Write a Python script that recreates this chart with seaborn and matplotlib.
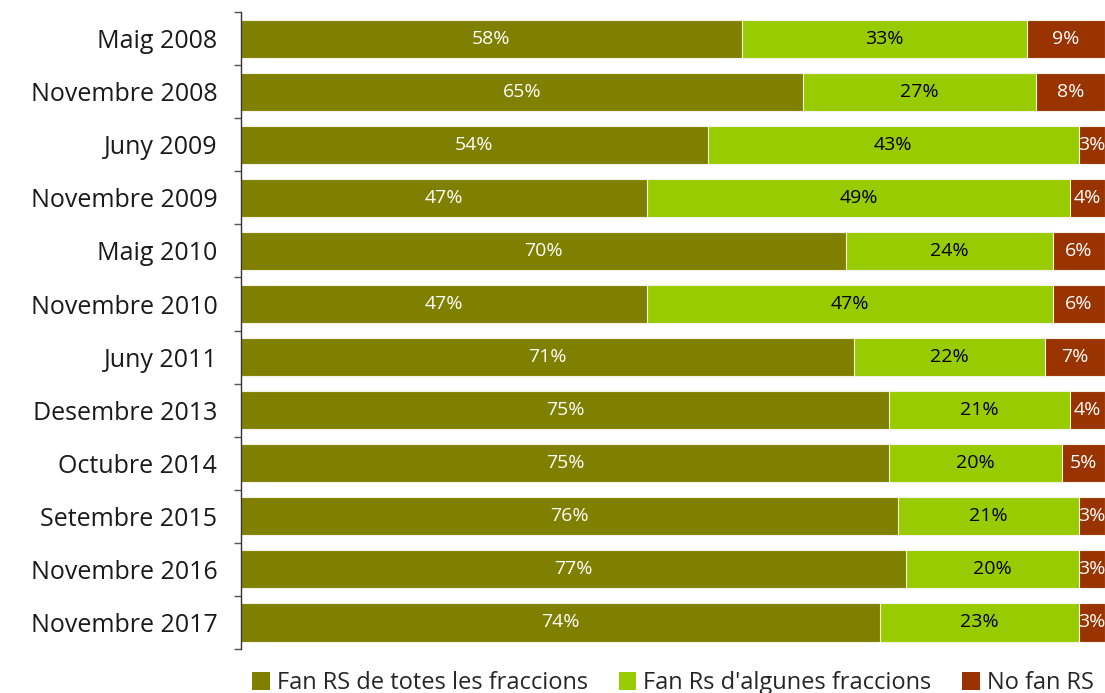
import numpy as np
import pandas as pd
import seaborn as sns
import matplotlib.pyplot as plt
from matplotlib.patches import Patch

# dades llegides del gràfic
periodes = ["Maig 2008", "Novembre 2008", "Juny 2009", "Novembre 2009", "Maig 2010",
            "Novembre 2010", "Juny 2011", "Desembre 2013", "Octubre 2014",
            "Setembre 2015", "Novembre 2016", "Novembre 2017"]
totes = [58, 65, 54, 47, 70, 47, 71, 75, 75, 76, 77, 74]
algunes = [33, 27, 43, 49, 24, 47, 22, 21, 20, 21, 20, 23]
no_fan = [9, 8, 3, 4, 6, 6, 7, 4, 5, 3, 3, 3]

series = ["Fan RS de totes les fraccions", "Fan Rs d'algunes fraccions", "No fan RS"]
colors = ["#808000", "#99CC00", "#993300"]
text_colors = ["white", "black", "white"]

df = pd.DataFrame({"periode": periodes, "totes": totes, "algunes": algunes, "no_fan": no_fan})
valors = df[["totes", "algunes", "no_fan"]].to_numpy(dtype=float)
acum = valors.cumsum(axis=1)

sns.set_style("white")
plt.rcParams["font.family"] = ["Open Sans", "DejaVu Sans"]

fig = plt.figure(figsize=(11.05, 6.93), dpi=100)
ax = fig.add_axes([0.218, 0.0635, 0.782, 0.919])

# barres apilades: de la més llarga a la més curta
for i in [2, 1, 0]:
    sns.barplot(x=acum[:, i], y=df["periode"], orient="h", color=colors[i],
                width=0.72, edgecolor="#F2F2E6", linewidth=0.8, saturation=1, ax=ax)

# etiquetes de percentatge
for i in range(3):
    centres = acum[:, i] - valors[:, i] / 2
    for j, (c, v) in enumerate(zip(centres, valors[:, i])):
        ax.text(c, j, f"{v:.0f}%", ha="center", va="center",
                color=text_colors[i], fontsize=14)

ax.set_xlim(0, 100)
ax.set_ylim(len(periodes) - 0.5, -0.5)
ax.set_xlabel("")
ax.set_ylabel("")
ax.xaxis.set_visible(False)
for s in ["top", "right", "bottom"]:
    ax.spines[s].set_visible(False)
ax.spines["left"].set_color("#333333")
ax.spines["left"].set_linewidth(1)

ax.tick_params(axis="y", which="major", length=0, labelsize=18, pad=17, labelcolor="#1a1a1a")
ax.set_yticks(np.arange(-0.5, len(periodes)), minor=True)
ax.tick_params(axis="y", which="minor", length=5, width=1, color="#555555", left=True)

handles = [Patch(facecolor=c, edgecolor="none") for c in colors]
ax.legend(handles, series, loc="upper center", bbox_to_anchor=(0.5, -0.02), ncol=3,
          frameon=False, fontsize=17, handlelength=0.75, handleheight=0.75,
          handletextpad=0.3, columnspacing=1.3, borderaxespad=0)

fig.savefig("out.png", dpi=100)
